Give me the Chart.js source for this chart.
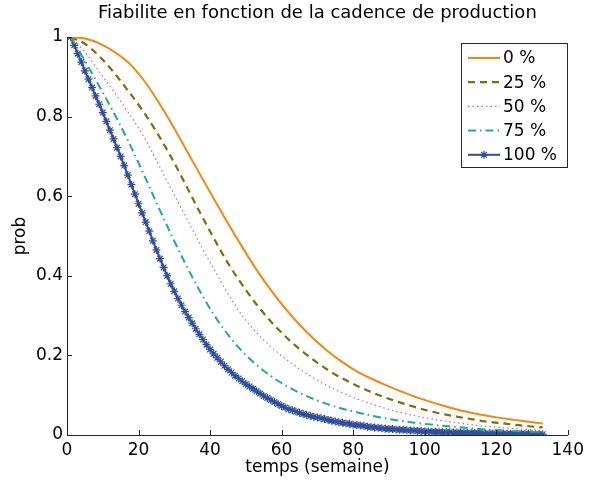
<!DOCTYPE html>
<html><head><meta charset="utf-8">
<script src="https://cdn.jsdelivr.net/npm/chart.js@4/dist/chart.umd.min.js"></script>
<style>html,body{margin:0;padding:0;background:#fff}#wrap{width:589px;height:487px}</style>
</head><body><div id="wrap"><canvas id="c" width="589" height="487"></canvas></div>
<script>
const chartTitle = "Fiabilite en fonction de la cadence de production";
const xLabel = "temps (semaine)";
const yLabel = "prob";
const seriesLabels = ["0 %", "25 %", "50 %", "75 %", "100 %"];
const xTicks = [0, 20, 40, 60, 80, 100, 120, 140];
const yTicks = [0, 0.2, 0.4, 0.6, 0.8, 1];

const weeksCoarse = [1,5,9,13,17,21,25,29,33,37,41,45,49,53,57,61,65,69,73,77,81,85,89,93,97,101,105,109,113,117,121,125,129,133];
const weeksFine = [1,2,3,4,5,6,7,8,9,10,11,12,13,14,15,16,17,18,19,20,21,22,23,24,25,26,27,28,29,30,31,32,33,34,35,36,37,38,39,40,41,42,43,44,45,46,47,48,49,50,51,52,53,54,55,56,57,58,59,60,61,62,63,64,65,66,67,68,69,70,71,72,73,74,75,76,77,78,79,80,81,82,83,84,85,86,87,88,89,90,91,92,93,94,95,96,97,98,99,100,101,102,103,104,105,106,107,108,109,110,111,112,113,114,115,116,117,118,119,120,121,122,123,124,125,126,127,128,129,130,131,132,133];

const p0 = [1.000,0.996,0.984,0.964,0.937,0.897,0.845,0.786,0.722,0.658,0.594,0.532,0.472,0.415,0.364,0.318,0.277,0.241,0.210,0.183,0.160,0.142,0.126,0.111,0.097,0.085,0.074,0.064,0.056,0.049,0.043,0.038,0.033,0.029];
const p25 = [1.000,0.983,0.952,0.912,0.866,0.817,0.762,0.700,0.632,0.562,0.495,0.432,0.377,0.328,0.285,0.248,0.216,0.188,0.163,0.142,0.124,0.108,0.094,0.082,0.071,0.061,0.053,0.046,0.040,0.034,0.030,0.026,0.022,0.019];
const p50 = [1.000,0.962,0.913,0.864,0.812,0.757,0.690,0.620,0.552,0.483,0.418,0.355,0.300,0.257,0.222,0.192,0.166,0.143,0.123,0.106,0.091,0.078,0.067,0.057,0.049,0.042,0.036,0.031,0.026,0.022,0.019,0.016,0.014,0.012];
const p75 = [1.000,0.940,0.877,0.811,0.741,0.664,0.584,0.506,0.432,0.364,0.303,0.252,0.210,0.176,0.148,0.125,0.106,0.090,0.077,0.066,0.057,0.049,0.042,0.036,0.031,0.027,0.023,0.020,0.017,0.014,0.012,0.010,0.009,0.007];
const p100 = [1.000,0.979,0.958,0.937,0.915,0.894,0.873,0.852,0.831,0.810,
0.788,0.766,0.744,0.722,0.700,0.677,0.653,0.629,0.605,0.581,
0.558,0.535,0.512,0.488,0.465,0.443,0.421,0.400,0.380,0.361,
0.343,0.326,0.310,0.295,0.281,0.267,0.253,0.240,0.227,0.215,
0.204,0.194,0.184,0.174,0.165,0.157,0.149,0.142,0.135,0.128,
0.122,0.116,0.110,0.104,0.098,0.093,0.088,0.083,0.078,0.073,
0.069,0.065,0.062,0.059,0.056,0.053,0.051,0.048,0.046,0.044,
0.042,0.040,0.038,0.036,0.034,0.032,0.031,0.029,0.028,0.026,
0.025,0.024,0.023,0.021,0.020,0.019,0.018,0.017,0.016,0.015,
0.015,0.014,0.013,0.013,0.012,0.011,0.011,0.010,0.010,0.009,
0.009,0.008,0.008,0.008,0.007,0.007,0.007,0.006,0.006,0.006,
0.006,0.005,0.005,0.005,0.005,0.005,0.004,0.004,0.004,0.004,
0.004,0.004,0.003,0.003,0.003,0.003,0.003,0.003,0.003,0.002,
0.002,0.002,0.002];

const toPts = (xs, ys) => xs.map((x, i) => ({x: x, y: ys[i]}));

Chart.defaults.font.family = "'DejaVu Sans', sans-serif";
Chart.defaults.color = '#1a1a1a';

const axisColor = '#262626';

const inwardTicks = {
  id: 'inwardTicks',
  afterDatasetsDraw(chart) {
    const {ctx, chartArea: a, scales: {x, y}} = chart;
    ctx.save();
    ctx.strokeStyle = axisColor;
    ctx.lineWidth = 1;
    ctx.beginPath();
    x.ticks.forEach(t => {
      const px = Math.round(x.getPixelForValue(t.value)) + 0.5;
      ctx.moveTo(px, a.bottom); ctx.lineTo(px, a.bottom - 5);
    });
    y.ticks.forEach(t => {
      const py = Math.round(y.getPixelForValue(t.value)) + 0.5;
      ctx.moveTo(a.left, py); ctx.lineTo(a.left + 5, py);
    });
    ctx.stroke();
    ctx.restore();
  }
};

const boxLegend = {
  id: 'boxLegend',
  afterDatasetsDraw(chart) {
    const ctx = chart.ctx;
    const bx = 461.5, by = 43.5, bw = 106, bh = 124;
    ctx.save();
    ctx.fillStyle = '#fff';
    ctx.fillRect(bx, by, bw, bh);
    ctx.strokeStyle = axisColor;
    ctx.lineWidth = 1;
    ctx.setLineDash([]);
    ctx.strokeRect(bx, by, bw, bh);
    chart.data.datasets.forEach((ds, i) => {
      const cy = 58 + i * 24.2;
      ctx.save();
      ctx.strokeStyle = ds.borderColor;
      ctx.lineWidth = ds.borderWidth;
      ctx.setLineDash(ds.borderDash || []);
      ctx.beginPath();
      ctx.moveTo(468, cy); ctx.lineTo(500, cy);
      ctx.stroke();
      ctx.restore();
      if (ds.pointRadius > 0) {
        ctx.save();
        ctx.strokeStyle = ds.pointBorderColor;
        ctx.fillStyle = ds.pointBorderColor;
        ctx.lineWidth = ds.pointBorderWidth;
        Chart.helpers.drawPoint(ctx, {pointStyle: ds.pointStyle, radius: ds.pointRadius, borderWidth: ds.pointBorderWidth, rotation: 0}, 484, cy);
        ctx.restore();
      }
      ctx.fillStyle = '#000';
      ctx.font = "17px 'DejaVu Sans', sans-serif";
      ctx.textBaseline = 'middle';
      ctx.textAlign = 'left';
      ctx.fillText(ds.label, 503, cy + 1);
    });
    ctx.restore();
  }
};

new Chart(document.getElementById('c'), {
  type: 'line',
  data: {
    datasets: [
      {label: seriesLabels[0], data: toPts(weeksCoarse, p0), borderColor: '#f7860f', borderWidth: 2, pointRadius: 0, cubicInterpolationMode: 'monotone', fill: false},
      {label: seriesLabels[1], data: toPts(weeksCoarse, p25), borderColor: '#7d6e0c', borderWidth: 2.2, borderDash: [7, 5], pointRadius: 0, cubicInterpolationMode: 'monotone', fill: false},
      {label: seriesLabels[2], data: toPts(weeksCoarse, p50), borderColor: '#e4647f', borderWidth: 1.2, borderDash: [1.5, 3], pointRadius: 0, cubicInterpolationMode: 'monotone', fill: false},
      {label: seriesLabels[3], data: toPts(weeksCoarse, p75), borderColor: '#1fac97', borderWidth: 2, borderDash: [8, 4, 1.5, 4], pointRadius: 0, cubicInterpolationMode: 'monotone', fill: false},
      {label: seriesLabels[4], data: toPts(weeksFine, p100), borderColor: '#2f4f9e', borderWidth: 2, pointRadius: 4, pointStyle: 'star', pointBorderColor: '#2f4f9e', pointBackgroundColor: '#2f4f9e', pointBorderWidth: 1.2, tension: 0, fill: false}
    ]
  },
  options: {
    responsive: false,
    animation: false,
    devicePixelRatio: 1,
    layout: {padding: {left: 0, right: 18, top: 0, bottom: 0}},
    plugins: {
      legend: {display: false},
      tooltip: {enabled: false},
      title: {display: true, text: chartTitle, fullSize: false, color: '#000', font: {size: 18, weight: 'normal'}, padding: {top: 3, bottom: 12.4}}
    },
    scales: {
      x: {
        type: 'linear', min: xTicks[0], max: xTicks[xTicks.length - 1],
        afterFit(s) { s.height = 52; },
        ticks: {stepSize: 20, color: '#000', font: {size: 17}, padding: 5, maxRotation: 0, autoSkip: false},
        grid: {display: true, drawOnChartArea: false, drawTicks: false},
        border: {display: true, color: axisColor, width: 1},
        title: {display: true, text: xLabel, color: '#000', font: {size: 17}, padding: {top: 0, bottom: 9}}
      },
      y: {
        type: 'linear', min: yTicks[0], max: yTicks[yTicks.length - 1],
        afterFit(s) { s.width = 67; },
        ticks: {stepSize: 0.2, color: '#000', font: {size: 17}, padding: 4, callback: v => String(parseFloat(Number(v).toFixed(1)))},
        grid: {display: true, drawOnChartArea: false, drawTicks: false},
        border: {display: true, color: axisColor, width: 1},
        title: {display: true, text: yLabel, color: '#000', font: {size: 17}, padding: {top: 10, bottom: 0}}
      }
    }
  },
  plugins: [inwardTicks, boxLegend]
});
</script></body></html>
